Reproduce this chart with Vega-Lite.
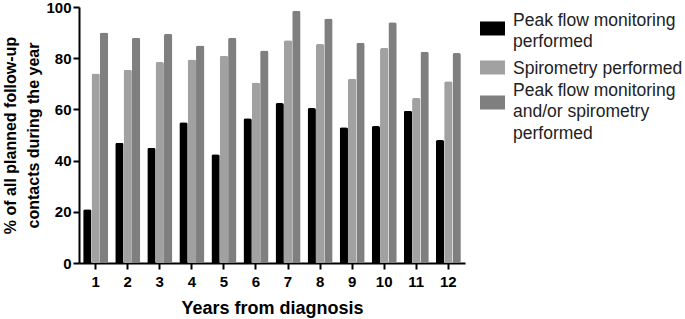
{
  "$schema": "https://vega.github.io/schema/vega-lite/v6.json",
  "width": 386,
  "height": 256,
  "autosize": {"type": "none"},
  "padding": {"left": 79, "top": 7, "right": 220, "bottom": 56},
  "background": "white",
  "config": {
    "view": {"stroke": null},
    "font": "Liberation Sans"
  },
  "data": {
    "values": [
      {"year": 1, "series": "Peak flow monitoring performed", "value": 21},
      {"year": 1, "series": "Spirometry performed", "value": 74},
      {"year": 1, "series": "Peak flow monitoring and/or spirometry performed", "value": 90},
      {"year": 2, "series": "Peak flow monitoring performed", "value": 47},
      {"year": 2, "series": "Spirometry performed", "value": 75.5},
      {"year": 2, "series": "Peak flow monitoring and/or spirometry performed", "value": 88},
      {"year": 3, "series": "Peak flow monitoring performed", "value": 45},
      {"year": 3, "series": "Spirometry performed", "value": 78.5},
      {"year": 3, "series": "Peak flow monitoring and/or spirometry performed", "value": 89.5},
      {"year": 4, "series": "Peak flow monitoring performed", "value": 55},
      {"year": 4, "series": "Spirometry performed", "value": 79.5},
      {"year": 4, "series": "Peak flow monitoring and/or spirometry performed", "value": 85},
      {"year": 5, "series": "Peak flow monitoring performed", "value": 42.5},
      {"year": 5, "series": "Spirometry performed", "value": 81},
      {"year": 5, "series": "Peak flow monitoring and/or spirometry performed", "value": 88},
      {"year": 6, "series": "Peak flow monitoring performed", "value": 56.5},
      {"year": 6, "series": "Spirometry performed", "value": 70.5},
      {"year": 6, "series": "Peak flow monitoring and/or spirometry performed", "value": 83},
      {"year": 7, "series": "Peak flow monitoring performed", "value": 62.5},
      {"year": 7, "series": "Spirometry performed", "value": 87},
      {"year": 7, "series": "Peak flow monitoring and/or spirometry performed", "value": 98.5},
      {"year": 8, "series": "Peak flow monitoring performed", "value": 60.5},
      {"year": 8, "series": "Spirometry performed", "value": 85.5},
      {"year": 8, "series": "Peak flow monitoring and/or spirometry performed", "value": 95.5},
      {"year": 9, "series": "Peak flow monitoring performed", "value": 53},
      {"year": 9, "series": "Spirometry performed", "value": 72},
      {"year": 9, "series": "Peak flow monitoring and/or spirometry performed", "value": 86},
      {"year": 10, "series": "Peak flow monitoring performed", "value": 53.5},
      {"year": 10, "series": "Spirometry performed", "value": 84},
      {"year": 10, "series": "Peak flow monitoring and/or spirometry performed", "value": 94},
      {"year": 11, "series": "Peak flow monitoring performed", "value": 59.5},
      {"year": 11, "series": "Spirometry performed", "value": 64.5},
      {"year": 11, "series": "Peak flow monitoring and/or spirometry performed", "value": 82.5},
      {"year": 12, "series": "Peak flow monitoring performed", "value": 48},
      {"year": 12, "series": "Spirometry performed", "value": 71},
      {"year": 12, "series": "Peak flow monitoring and/or spirometry performed", "value": 82}
    ]
  },
  "mark": {"type": "bar", "cornerRadiusEnd": 2},
  "encoding": {
    "x": {
      "field": "year",
      "type": "ordinal",
      "scale": {"paddingInner": 0.22, "paddingOuter": 0.13},
      "axis": {
        "title": "Years from diagnosis",
        "titleFontSize": 18,
        "titleFontWeight": "bold",
        "titleColor": "#000",
        "titlePadding": 10,
        "labelAngle": 0,
        "labelFontSize": 15,
        "labelFontWeight": "bold",
        "labelColor": "#000",
        "labelPadding": 5,
        "tickColor": "#000",
        "tickWidth": 2,
        "tickSize": 6,
        "domainColor": "#000",
        "domainWidth": 2,
        "grid": false
      }
    },
    "xOffset": {
      "field": "series",
      "type": "nominal",
      "sort": ["Peak flow monitoring performed", "Spirometry performed", "Peak flow monitoring and/or spirometry performed"]
    },
    "y": {
      "field": "value",
      "type": "quantitative",
      "scale": {"domain": [0, 100], "nice": false},
      "axis": {
        "title": ["% of all planned follow-up", "contacts during the year"],
        "titleFontSize": 16,
        "titleFontWeight": "bold",
        "titleColor": "#000",
        "titlePadding": 4,
        "titleLineHeight": 23,
        "values": [0, 20, 40, 60, 80, 100],
        "labelFontSize": 15,
        "labelFontWeight": "bold",
        "labelColor": "#000",
        "labelPadding": 2,
        "tickColor": "#000",
        "tickWidth": 2,
        "tickSize": 6,
        "domainColor": "#000",
        "domainWidth": 2,
        "grid": false
      }
    },
    "color": {
      "field": "series",
      "type": "nominal",
      "scale": {
        "domain": ["Peak flow monitoring performed", "Spirometry performed", "Peak flow monitoring and/or spirometry performed"],
        "range": ["#000000", "#a1a1a1", "#7f7f7f"]
      },
      "legend": {
        "title": null,
        "orient": "none",
        "legendX": 401,
        "legendY": 9,
        "symbolType": "M-1,-0.56L1,-0.56L1,0.56L-1,0.56Z",
        "symbolSize": 625,
        "symbolStrokeWidth": 0,
        "symbolOpacity": 1,
        "labelFontSize": 17.5,
        "labelColor": "#222",
        "labelOffset": 8,
        "labelLimit": 250,
        "rowPadding": 4,
        "labelExpr": "datum.label == 'Peak flow monitoring performed' ? ['Peak flow monitoring', 'performed'] : datum.label == 'Spirometry performed' ? 'Spirometry performed' : ['Peak flow monitoring', 'and/or spirometry', 'performed']",
        "encode": {
          "labels": {
            "update": {
              "lineHeight": {"value": 21.5},
              "dy": {"signal": "datum.value == 'Spirometry performed' ? 1 : datum.value == 'Peak flow monitoring performed' ? -8 : -12"}
            }
          }
        }
      }
    }
  }
}
